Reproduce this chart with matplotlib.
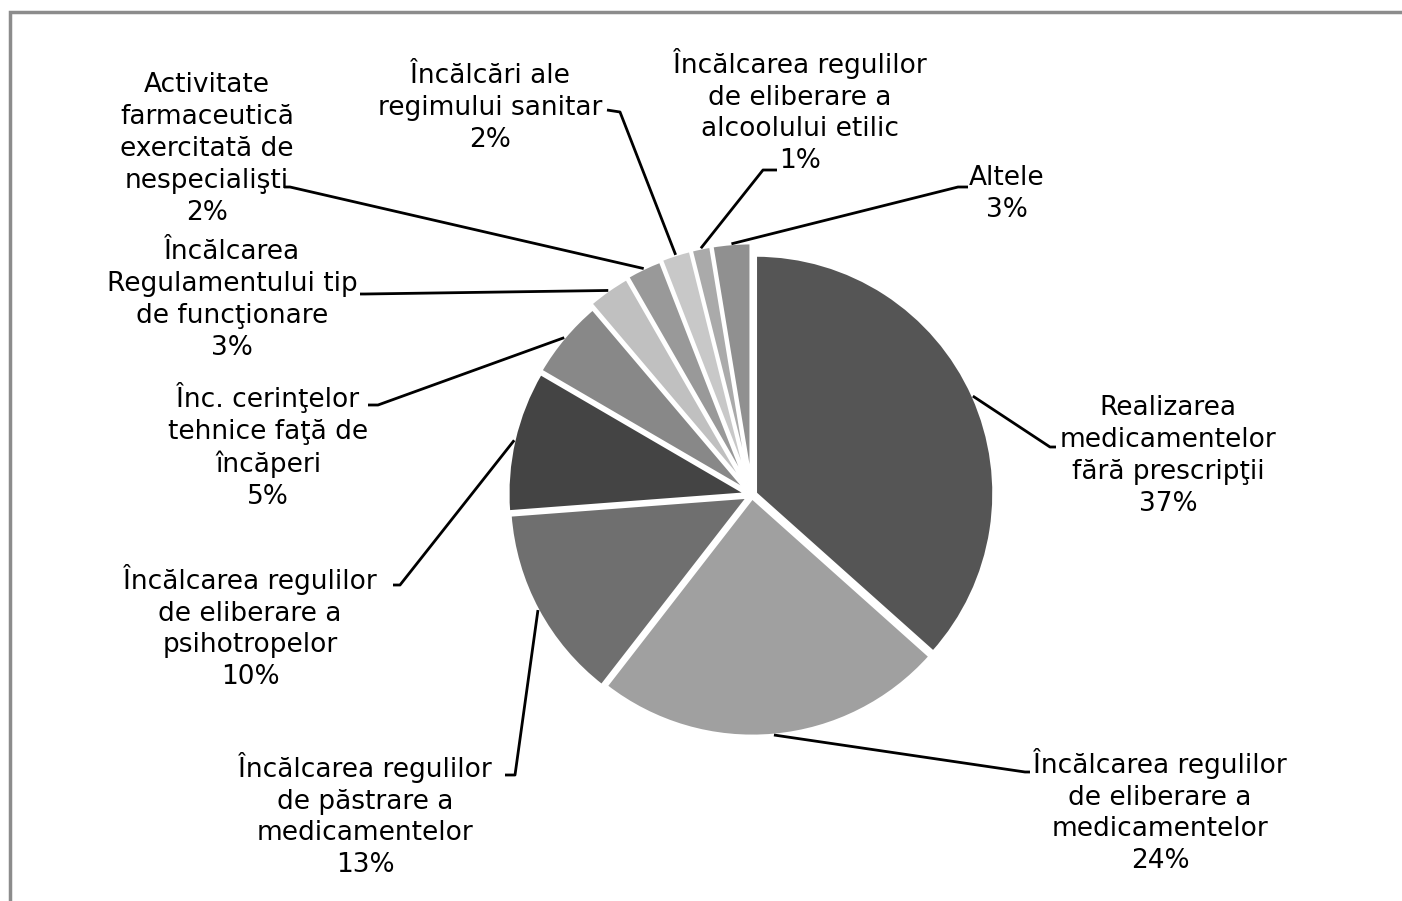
import matplotlib
matplotlib.use("Agg")
import matplotlib.pyplot as plt
from matplotlib.patches import Rectangle
import numpy as np

plt.rcParams['font.family'] = ['DejaVu Sans']

W, H = 1402, 901

categories = [
    "Realizarea\nmedicamentelor\nfără prescripţii",
    "Încălcarea regulilor\nde eliberare a\nmedicamentelor",
    "Încălcarea regulilor\nde păstrare a\nmedicamentelor",
    "Încălcarea regulilor\nde eliberare a\npsihotropelor",
    "Înc. cerinţelor\ntehnice faţă de\nîncăperi",
    "Încălcarea\nRegulamentului tip\nde funcţionare",
    "Activitate\nfarmaceutică\nexercitată de\nnespecialişti",
    "Încălcări ale\nregimului sanitar",
    "Încălcarea regulilor\nde eliberare a\nalcoolului etilic",
    "Altele",
]
values = [36.6, 23.9, 13.3, 9.6, 5.4, 2.9, 2.4, 2.0, 1.3, 2.6]
pct_labels = ["37%", "24%", "13%", "10%", "5%", "3%", "2%", "2%", "1%", "3%"]
colors = ["#555555", "#a0a0a0", "#6f6f6f", "#444444", "#888888",
          "#c0c0c0", "#999999", "#c8c8c8", "#aaaaaa", "#909090"]

# layout in pixel coordinates (origin top-left)
explode_px = [4, 3, 5, 6, 7, 12, 13, 14, 14, 14]
text_pos = [(1168, 456), (1160, 811), (365, 815), (250, 627), (268, 446),
            (232, 300), (207, 149), (490, 108), (800, 111), (1007, 194)]
elbows = [
    [(1050, 447), (1056, 447)],
    [(1025, 772), (1030, 772)],
    [(515, 775), (505, 775)],
    [(400, 585), (393, 585)],
    [(378, 405), (368, 405)],
    [(365, 294), (360, 294)],
    [(290, 187), (284, 187)],
    [(620, 112), (607, 110)],
    [(763, 170), (777, 170)],
    [(958, 187), (968, 187)],
]


def p(x, y):
    return x, H - y


fig = plt.figure(figsize=(W / 100, H / 100), dpi=100)
ax = fig.add_axes([0, 0, 1, 1])

cx, cy = p(752, 495)
radius = 238
wedges, _ = ax.pie(values, colors=colors, startangle=90, counterclock=False,
                   center=(cx, cy), radius=radius, explode=explode_px,
                   wedgeprops=dict(edgecolor="white", linewidth=2))
ax.set_xlim(0, W)
ax.set_ylim(0, H)
ax.set_aspect("auto")
ax.axis("off")

for i, w in enumerate(wedges):
    mid = np.deg2rad((w.theta1 + w.theta2) / 2)
    x0 = w.center[0] + radius * np.cos(mid)
    y0 = w.center[1] + radius * np.sin(mid)
    pts = [(x0, y0)] + [p(*e) for e in elbows[i]]
    xs, ys = zip(*pts)
    ax.plot(xs, ys, color="black", lw=2, solid_capstyle="butt", zorder=3)
    tx, ty = p(*text_pos[i])
    ax.text(tx, ty, categories[i] + "\n" + pct_labels[i], ha="center",
            va="center", fontsize=19, linespacing=1.29, color="black")

# outer frame, cut at right and bottom edges
ax.add_patch(Rectangle((10, -40), 1500, H - 12 + 40, fill=False,
                       edgecolor="#8c8c8c", lw=2.5, clip_on=False))

fig.savefig("out.png", dpi=100)
